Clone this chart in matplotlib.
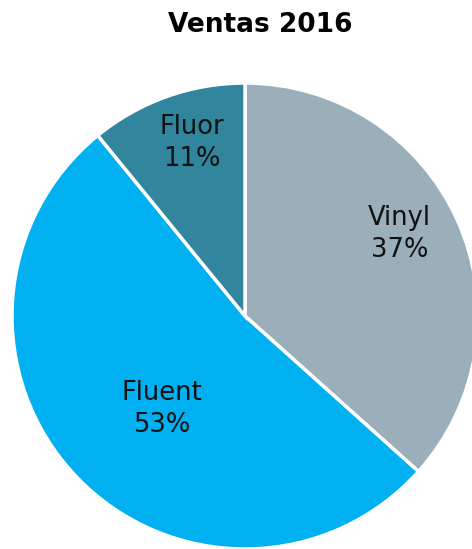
import numpy as np
import matplotlib.pyplot as plt

labels = ['Vinyl', 'Fluent', 'Fluor']
values = [37, 53, 11]
colors = ['#9AAFBA', '#00B0F0', '#31859C']

fig = plt.figure(figsize=(4.72, 5.49), dpi=100)
# pie centre at (245, 316) px, radius ~233 px
ax = fig.add_axes([12 / 472, 0, 466 / 472, 466 / 549])

wedges, _ = ax.pie(values, colors=colors, startangle=90, counterclock=False,
                   wedgeprops=dict(edgecolor='white', linewidth=2.5))
ax.set_xlim(-1, 1)
ax.set_ylim(-1, 1)
ax.set_aspect('equal')
ax.axis('off')

# label placement per slice (radius, angle nudge in degrees)
label_r = [0.75, 0.535, 0.775]
label_da = [4, 4.5, -2.5]
for w, name, v, r, da in zip(wedges, labels, values, label_r, label_da):
    ang = np.deg2rad((w.theta1 + w.theta2) / 2 + da)
    ax.text(r * np.cos(ang), r * np.sin(ang), '%s\n%d%%' % (name, v),
            ha='center', va='center', fontsize=18.5, color='#111111',
            linespacing=1.3)

fig.text(260 / 472, 1 - 25 / 549, 'Ventas 2016', ha='center', va='center',
         fontsize=19, fontweight='bold')

fig.savefig('out.png', dpi=100)
